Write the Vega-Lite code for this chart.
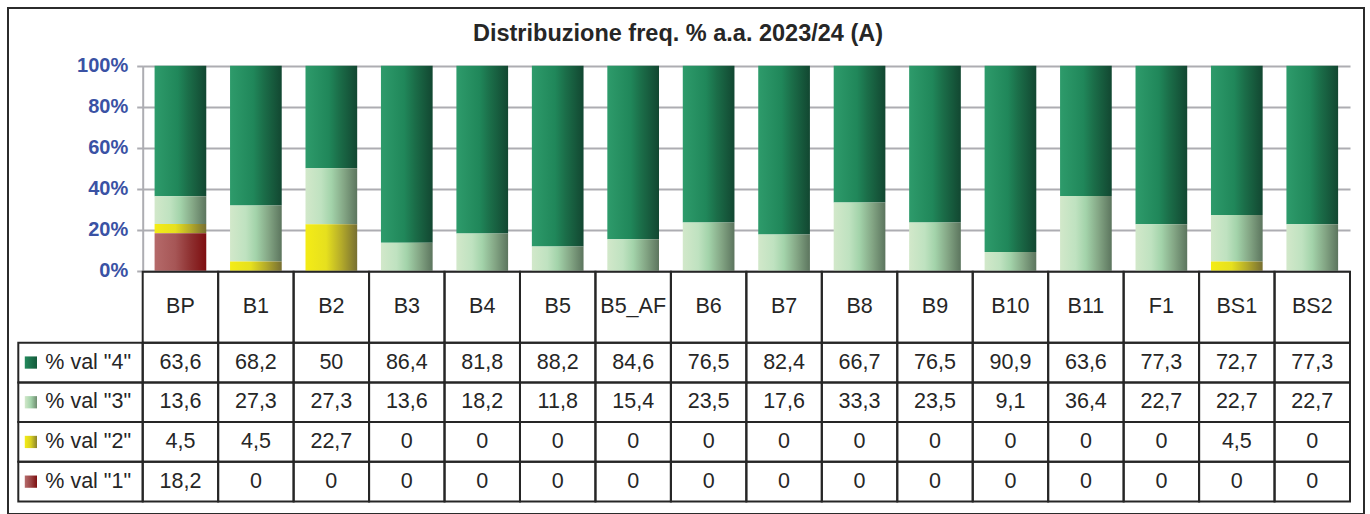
{
  "$schema": "https://vega.github.io/schema/vega-lite/v6.json",
  "width": 1356,
  "height": 506,
  "autosize": "none",
  "padding": {"left": 8, "top": 8, "right": 6, "bottom": 0},
  "background": "white",
  "title": {"text": "Distribuzione freq. % a.a. 2023/24 (A)", "font": "Liberation Sans", "fontSize": 23.5, "fontWeight": "bold", "color": "#262626", "anchor": "middle", "offset": -37, "dx": -8},
  "datasets": {
    "t": [
      {"cat": "BP", "s": "% val \"4\"", "v": 63.6}, {"cat": "B1", "s": "% val \"4\"", "v": 68.2}, {"cat": "B2", "s": "% val \"4\"", "v": 50}, {"cat": "B3", "s": "% val \"4\"", "v": 86.4},
      {"cat": "B4", "s": "% val \"4\"", "v": 81.8}, {"cat": "B5", "s": "% val \"4\"", "v": 88.2}, {"cat": "B5_AF", "s": "% val \"4\"", "v": 84.6}, {"cat": "B6", "s": "% val \"4\"", "v": 76.5},
      {"cat": "B7", "s": "% val \"4\"", "v": 82.4}, {"cat": "B8", "s": "% val \"4\"", "v": 66.7}, {"cat": "B9", "s": "% val \"4\"", "v": 76.5}, {"cat": "B10", "s": "% val \"4\"", "v": 90.9},
      {"cat": "B11", "s": "% val \"4\"", "v": 63.6}, {"cat": "F1", "s": "% val \"4\"", "v": 77.3}, {"cat": "BS1", "s": "% val \"4\"", "v": 72.7}, {"cat": "BS2", "s": "% val \"4\"", "v": 77.3},
      {"cat": "BP", "s": "% val \"3\"", "v": 13.6}, {"cat": "B1", "s": "% val \"3\"", "v": 27.3}, {"cat": "B2", "s": "% val \"3\"", "v": 27.3}, {"cat": "B3", "s": "% val \"3\"", "v": 13.6},
      {"cat": "B4", "s": "% val \"3\"", "v": 18.2}, {"cat": "B5", "s": "% val \"3\"", "v": 11.8}, {"cat": "B5_AF", "s": "% val \"3\"", "v": 15.4}, {"cat": "B6", "s": "% val \"3\"", "v": 23.5},
      {"cat": "B7", "s": "% val \"3\"", "v": 17.6}, {"cat": "B8", "s": "% val \"3\"", "v": 33.3}, {"cat": "B9", "s": "% val \"3\"", "v": 23.5}, {"cat": "B10", "s": "% val \"3\"", "v": 9.1},
      {"cat": "B11", "s": "% val \"3\"", "v": 36.4}, {"cat": "F1", "s": "% val \"3\"", "v": 22.7}, {"cat": "BS1", "s": "% val \"3\"", "v": 22.7}, {"cat": "BS2", "s": "% val \"3\"", "v": 22.7},
      {"cat": "BP", "s": "% val \"2\"", "v": 4.5}, {"cat": "B1", "s": "% val \"2\"", "v": 4.5}, {"cat": "B2", "s": "% val \"2\"", "v": 22.7}, {"cat": "B3", "s": "% val \"2\"", "v": 0},
      {"cat": "B4", "s": "% val \"2\"", "v": 0}, {"cat": "B5", "s": "% val \"2\"", "v": 0}, {"cat": "B5_AF", "s": "% val \"2\"", "v": 0}, {"cat": "B6", "s": "% val \"2\"", "v": 0},
      {"cat": "B7", "s": "% val \"2\"", "v": 0}, {"cat": "B8", "s": "% val \"2\"", "v": 0}, {"cat": "B9", "s": "% val \"2\"", "v": 0}, {"cat": "B10", "s": "% val \"2\"", "v": 0},
      {"cat": "B11", "s": "% val \"2\"", "v": 0}, {"cat": "F1", "s": "% val \"2\"", "v": 0}, {"cat": "BS1", "s": "% val \"2\"", "v": 4.5}, {"cat": "BS2", "s": "% val \"2\"", "v": 0},
      {"cat": "BP", "s": "% val \"1\"", "v": 18.2}, {"cat": "B1", "s": "% val \"1\"", "v": 0}, {"cat": "B2", "s": "% val \"1\"", "v": 0}, {"cat": "B3", "s": "% val \"1\"", "v": 0},
      {"cat": "B4", "s": "% val \"1\"", "v": 0}, {"cat": "B5", "s": "% val \"1\"", "v": 0}, {"cat": "B5_AF", "s": "% val \"1\"", "v": 0}, {"cat": "B6", "s": "% val \"1\"", "v": 0},
      {"cat": "B7", "s": "% val \"1\"", "v": 0}, {"cat": "B8", "s": "% val \"1\"", "v": 0}, {"cat": "B9", "s": "% val \"1\"", "v": 0}, {"cat": "B10", "s": "% val \"1\"", "v": 0},
      {"cat": "B11", "s": "% val \"1\"", "v": 0}, {"cat": "F1", "s": "% val \"1\"", "v": 0}, {"cat": "BS1", "s": "% val \"1\"", "v": 0}, {"cat": "BS2", "s": "% val \"1\"", "v": 0}
    ]
  },
  "data": {"name": "t"},
  "resolve": {"scale": {"x": "independent", "y": "independent"}},
  "layer": [
    {
      "transform": [{"stack": "v", "groupby": ["cat"], "sort": [{"field": "s", "order": "ascending"}], "offset": "normalize", "as": ["y0", "y1"]}],
      "encoding": {
        "x": {"field": "cat", "type": "nominal", "axis": null, "scale": {"type": "band", "domain": ["BP","B1","B2","B3","B4","B5","B5_AF","B6","B7","B8","B9","B10","B11","F1","BS1","BS2"], "range": [134.7, 1342], "paddingInner": 0.315, "paddingOuter": 0.1575}},
        "y": {"field": "y1", "type": "quantitative", "scale": {"domain": [0, 1], "range": [262.7, 57.7], "nice": false, "zero": false},
          "axis": {"values": [0, 0.2, 0.4, 0.6, 0.8, 1], "format": ".0%", "title": null, "grid": true, "offset": -134.7, "labelFont": "Liberation Sans", "labelFontSize": 20, "labelFontWeight": "bold", "labelColor": "#3A52A4", "labelPadding": 9, "tickSize": 6, "tickColor": "#ADADB2", "tickWidth": 2, "domainColor": "#ADADB2", "domainWidth": 2, "gridColor": "#ADADB2", "gridWidth": 2}},
        "y2": {"field": "y0"}
      },
      "layer": [
        {"transform": [{"filter": {"field": "s", "equal": "% val \"4\""}}], "mark": {"type": "bar", "color": {"gradient": "linear", "x1": 0, "y1": 0, "x2": 1, "y2": 0, "stops": [{"offset": 0, "color": "#2E9B6B"}, {"offset": 0.45, "color": "#20875A"}, {"offset": 0.65, "color": "#1B6E49"}, {"offset": 1, "color": "#124731"}]}}},
        {"transform": [{"filter": {"field": "s", "equal": "% val \"3\""}}], "mark": {"type": "bar", "color": {"gradient": "linear", "x1": 0, "y1": 0, "x2": 1, "y2": 0, "stops": [{"offset": 0, "color": "#D2E8CA"}, {"offset": 0.3, "color": "#BFE2C0"}, {"offset": 0.5, "color": "#A3D3AA"}, {"offset": 0.75, "color": "#83A584"}, {"offset": 1, "color": "#5C755E"}]}}},
        {"transform": [{"filter": {"field": "s", "equal": "% val \"2\""}}], "mark": {"type": "bar", "color": {"gradient": "linear", "x1": 0, "y1": 0, "x2": 1, "y2": 0, "stops": [{"offset": 0, "color": "#F4EC16"}, {"offset": 0.4, "color": "#E6E01E"}, {"offset": 0.7, "color": "#B3AA2A"}, {"offset": 1, "color": "#776F31"}]}}},
        {"transform": [{"filter": {"field": "s", "equal": "% val \"1\""}}], "mark": {"type": "bar", "color": {"gradient": "linear", "x1": 0, "y1": 0, "x2": 1, "y2": 0, "stops": [{"offset": 0, "color": "#B56A6A"}, {"offset": 0.4, "color": "#A65656"}, {"offset": 0.7, "color": "#8E3030"}, {"offset": 1, "color": "#7E0E10"}]}}}
      ]
    },
    {
      "transform": [{"filter": {"field": "s", "equal": "% val \"4\""}}],
      "encoding": {
        "x": {"field": "cat", "type": "nominal", "axis": null, "scale": {"type": "band", "domain": ["BP","B1","B2","B3","B4","B5","B5_AF","B6","B7","B8","B9","B10","B11","F1","BS1","BS2"], "range": [134.7, 1342], "paddingInner": 0, "paddingOuter": 0}},
        "y": {"datum": "hdr", "type": "nominal", "axis": null, "scale": {"type": "band", "domain": ["hdr"], "range": [263.7, 334.7], "paddingInner": 0, "paddingOuter": 0}}
      },
      "layer": [
        {"mark": {"type": "rect", "fill": "transparent", "stroke": "#262626", "strokeWidth": 2}},
        {"mark": {"type": "text", "font": "Liberation Sans", "fontSize": 21.5, "color": "#262626"}, "encoding": {"text": {"field": "cat"}}}
      ]
    },
    {
      "encoding": {
        "x": {"field": "cat", "type": "nominal", "axis": null, "scale": {"type": "band", "domain": ["BP","B1","B2","B3","B4","B5","B5_AF","B6","B7","B8","B9","B10","B11","F1","BS1","BS2"], "range": [134.7, 1342], "paddingInner": 0, "paddingOuter": 0}},
        "y": {"field": "s", "type": "nominal", "axis": null, "scale": {"type": "band", "domain": ["% val \"4\"", "% val \"3\"", "% val \"2\"", "% val \"1\""], "range": [334.7, 493.5], "paddingInner": 0, "paddingOuter": 0}}
      },
      "layer": [
        {"mark": {"type": "rect", "fill": "transparent", "stroke": "#262626", "strokeWidth": 2}},
        {"mark": {"type": "text", "font": "Liberation Sans", "fontSize": 21.5, "color": "#262626"}, "encoding": {"text": {"field": "v", "type": "quantitative", "format": ".1~f"}}}
      ]
    },
    {
      "transform": [{"filter": {"field": "cat", "equal": "BP"}}],
      "encoding": {
        "y": {"field": "s", "type": "nominal", "axis": null, "scale": {"type": "band", "domain": ["% val \"4\"", "% val \"3\"", "% val \"2\"", "% val \"1\""], "range": [334.7, 493.5], "paddingInner": 0, "paddingOuter": 0}}
      },
      "layer": [
        {"mark": {"type": "rect", "fill": "transparent", "stroke": "#262626", "strokeWidth": 2},
         "encoding": {"x": {"datum": "lbl", "type": "nominal", "axis": null, "scale": {"type": "band", "domain": ["lbl"], "range": [10.3, 134.7], "paddingInner": 0, "paddingOuter": 0}}}},
        {"mark": {"type": "text", "align": "left", "dx": 27, "font": "Liberation Sans", "fontSize": 21.5, "color": "#262626"},
         "encoding": {"x": {"datum": "lbl", "type": "nominal", "bandPosition": 0, "axis": null, "scale": {"type": "band", "domain": ["lbl"], "range": [10.3, 134.7], "paddingInner": 0, "paddingOuter": 0}}, "text": {"field": "s"}}},
        {"transform": [{"filter": {"field": "s", "equal": "% val \"4\""}}], "mark": {"type": "square", "size": 150, "opacity": 1, "xOffset": 12.6, "color": {"gradient": "linear", "x1": 0, "y1": 0, "x2": 1, "y2": 0, "stops": [{"offset": 0, "color": "#23895C"}, {"offset": 1, "color": "#145A3B"}]}},
         "encoding": {"x": {"datum": "lbl", "type": "nominal", "bandPosition": 0, "axis": null, "scale": {"type": "band", "domain": ["lbl"], "range": [10.3, 134.7], "paddingInner": 0, "paddingOuter": 0}}}},
        {"transform": [{"filter": {"field": "s", "equal": "% val \"3\""}}], "mark": {"type": "square", "size": 150, "opacity": 1, "xOffset": 12.6, "color": {"gradient": "linear", "x1": 0, "y1": 0, "x2": 1, "y2": 0, "stops": [{"offset": 0, "color": "#D2E8CA"}, {"offset": 0.5, "color": "#A3D3AA"}, {"offset": 1, "color": "#6F8C70"}]}},
         "encoding": {"x": {"datum": "lbl", "type": "nominal", "bandPosition": 0, "axis": null, "scale": {"type": "band", "domain": ["lbl"], "range": [10.3, 134.7], "paddingInner": 0, "paddingOuter": 0}}}},
        {"transform": [{"filter": {"field": "s", "equal": "% val \"2\""}}], "mark": {"type": "square", "size": 150, "opacity": 1, "xOffset": 12.6, "color": {"gradient": "linear", "x1": 0, "y1": 0, "x2": 1, "y2": 0, "stops": [{"offset": 0, "color": "#F4EC16"}, {"offset": 0.5, "color": "#D8D020"}, {"offset": 1, "color": "#8A822E"}]}},
         "encoding": {"x": {"datum": "lbl", "type": "nominal", "bandPosition": 0, "axis": null, "scale": {"type": "band", "domain": ["lbl"], "range": [10.3, 134.7], "paddingInner": 0, "paddingOuter": 0}}}},
        {"transform": [{"filter": {"field": "s", "equal": "% val \"1\""}}], "mark": {"type": "square", "size": 150, "opacity": 1, "xOffset": 12.6, "color": {"gradient": "linear", "x1": 0, "y1": 0, "x2": 1, "y2": 0, "stops": [{"offset": 0, "color": "#B56A6A"}, {"offset": 0.5, "color": "#9A4444"}, {"offset": 1, "color": "#7E0E10"}]}},
         "encoding": {"x": {"datum": "lbl", "type": "nominal", "bandPosition": 0, "axis": null, "scale": {"type": "band", "domain": ["lbl"], "range": [10.3, 134.7], "paddingInner": 0, "paddingOuter": 0}}}}
      ]
    }
  ],
  "config": {
    "font": "Liberation Sans",
    "locale": {"number": {"decimal": ",", "thousands": ".", "grouping": [3], "currency": ["€", ""]}},
    "view": {"stroke": "#2b2b2b", "strokeWidth": 2}
  }
}
